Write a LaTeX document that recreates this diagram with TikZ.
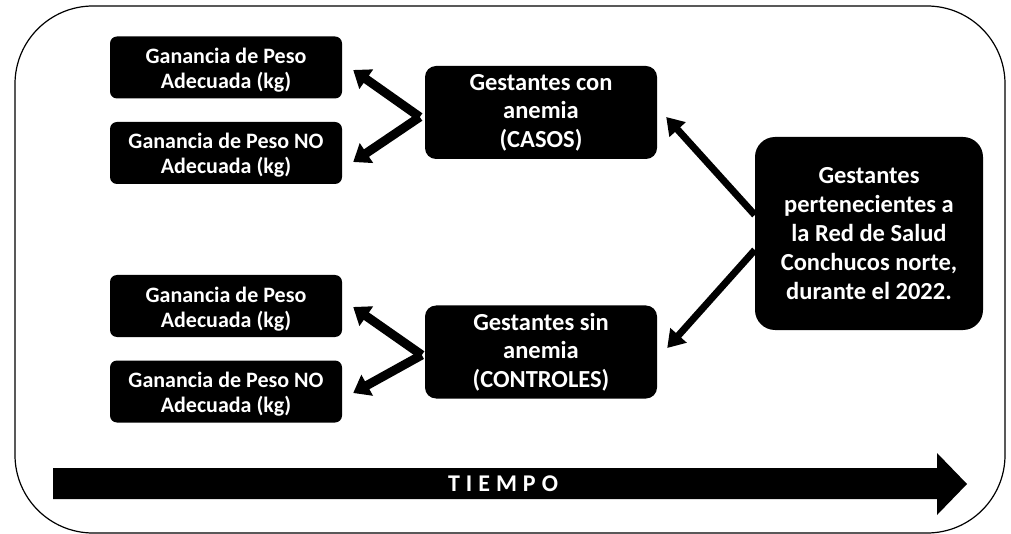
\documentclass[tikz,border=0pt]{standalone}
\usepackage{fontspec}
\setmainfont{Carlito}
\usetikzlibrary{arrows.meta}
\tikzset{
  smallbox/.style={fill=black, text=white, rounded corners=7pt, inner sep=0pt,
    minimum width=232pt, minimum height=62pt, align=center,
    text height=52pt, text depth=10pt,
    font=\fontsize{22}{25}\selectfont\bfseries},
  groupbox/.style={fill=black, text=white, rounded corners=11pt, inner sep=0pt,
    minimum width=232pt, minimum height=93pt, align=center,
    font=\fontsize{24.5}{28.5}\selectfont\bfseries},
  mainbox/.style={fill=black, text=white, rounded corners=20pt, inner sep=0pt,
    minimum width=228pt, minimum height=193pt, align=center,
    font=\fontsize{24.5}{29}\selectfont\bfseries},
  sarrow/.style={line width=9pt, -{Triangle[width=23pt,length=16pt]}},
  barrow/.style={line width=7pt, -{Triangle[width=21pt,length=17pt]}},
}
\begin{document}
\begin{tikzpicture}[x=1pt,y=-1pt]
\useasboundingbox (0,0) rectangle (1011,534);
\fill[white] (0,0) rectangle (1011,534);
% outer frame
\draw[line width=1.2pt, rounded corners=78pt] (15,6) rectangle (1005,533);

% nodes
\node[smallbox] (g1) at (226,67.5) {Ganancia de Peso\\Adecuada (kg)};
\node[smallbox] (g2) at (226,153) {Ganancia de Peso NO\\Adecuada (kg)};
\node[smallbox] (g3) at (226,306) {Ganancia de Peso\\Adecuada (kg)};
\node[smallbox] (g4) at (226,391.5) {Ganancia de Peso NO\\Adecuada (kg)};
\node[groupbox] (casos) at (541,112.5) {Gestantes con\\anemia\\(CASOS)};
\node[groupbox] (ctrl) at (541,352) {Gestantes sin\\anemia\\(CONTROLES)};
\node[mainbox] (main) at (869,233.5) {Gestantes\\pertenecientes a\\la Red de Salud\\Conchucos norte,\\durante el 2022.};

% connectors
\coordinate (jc) at ([shift={(-5,4.5)}]casos.west);
\coordinate (jk) at ([shift={(-3,3)}]ctrl.west);
\draw[sarrow] (jc) -- ([shift={(11,2.5)}]g1.east);
\draw[sarrow] (jc) -- ([shift={(11,9)}]g2.east);
\draw[sarrow] (jk) -- ([shift={(11,1)}]g3.east);
\draw[sarrow] (jk) -- ([shift={(11,1.5)}]g4.east);
\draw[barrow] ([shift={(0,-18.5)}]main.west) -- ([shift={(9,4.5)}]casos.east);
\draw[barrow] ([shift={(0,16.5)}]main.west) -- ([shift={(10,-4)}]ctrl.east);

% time arrow
\fill[black] (53,468) -- (937,468) -- (937,453) -- (967,484) -- (937,515) -- (937,499) -- (53,499) -- cycle;
\node[text=white, font=\fontsize{24}{26}\selectfont\bfseries] (tiempo) at (503,484)
  {T\kern6pt I\kern6pt E\kern6pt M\kern6pt P\kern6pt O};
\end{tikzpicture}
\end{document}
